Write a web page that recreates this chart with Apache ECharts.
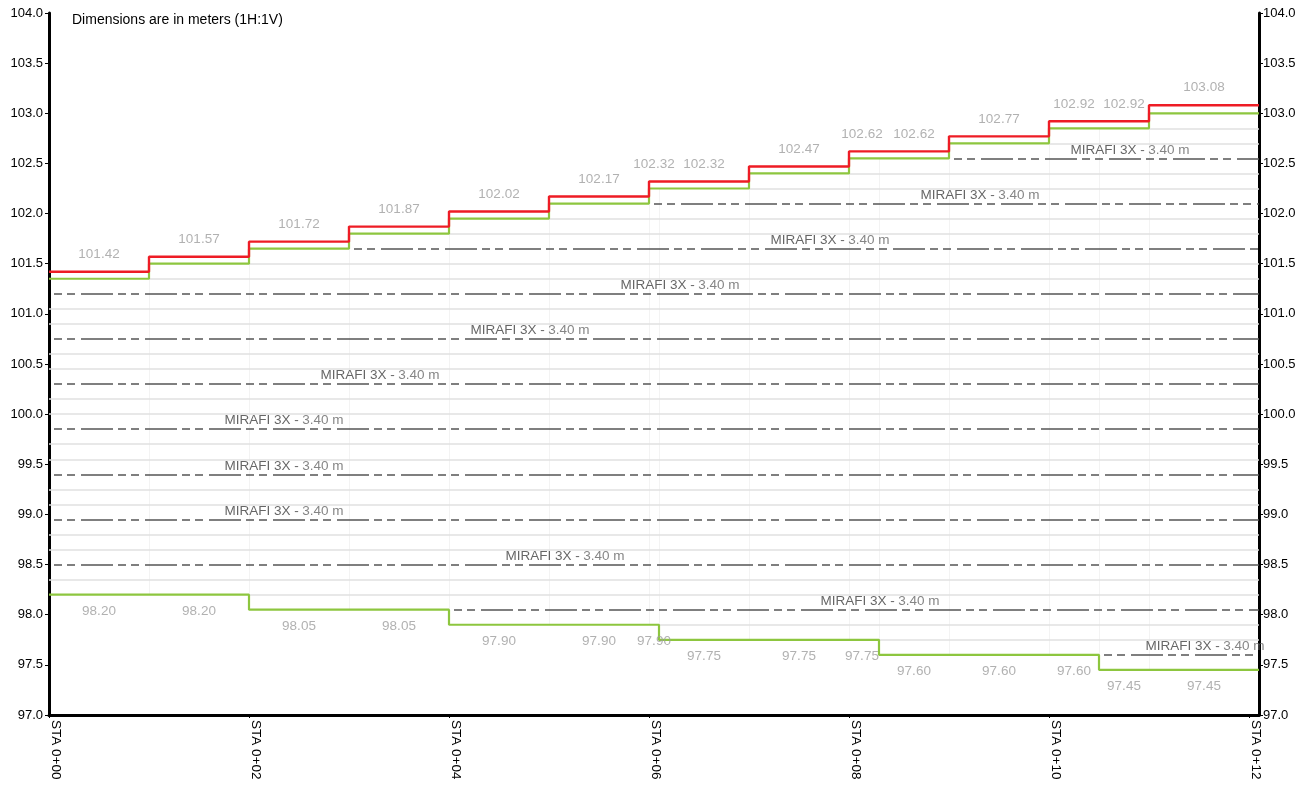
<!DOCTYPE html>
<html><head><meta charset="utf-8">
<script src="https://cdn.jsdelivr.net/npm/echarts@6/dist/echarts.min.js"></script>
<style>html,body{margin:0;padding:0;background:#fff}#c{width:1309px;height:786px}</style>
</head><body><div id="c"></div>
<script>
// ---- data ----
const stationTicks = [0, 2, 4, 6, 8, 10, 12];
const xMax = 12.1;
const topEdges = [0, 1, 2, 3, 4, 5, 6, 7, 8, 9, 10, 11, 12.1];
const topSurface = [101.42, 101.57, 101.72, 101.87, 102.02, 102.17, 102.32, 102.47, 102.62, 102.77, 102.92, 103.08];
const topFill = [101.35, 101.50, 101.65, 101.80, 101.95, 102.10, 102.25, 102.40, 102.55, 102.70, 102.85, 103.00];
const bottomEdges = [0, 2, 4, 6.1, 8.3, 10.5, 12.1];
const bottomLevels = [98.20, 98.05, 97.90, 97.75, 97.60, 97.45];
const labelX = [0.5, 1.5, 2.5, 3.5, 4.5, 5.5, 6.05, 6.55, 7.5, 8.13, 8.65, 9.5, 10.25, 10.75, 11.55];
const topLabels = [101.42, 101.57, 101.72, 101.87, 102.02, 102.17, 102.32, 102.32, 102.47, 102.62, 102.62, 102.77, 102.92, 102.92, 103.08];
const bottomLabels = [98.20, 98.20, 98.05, 98.05, 97.90, 97.90, 97.90, 97.75, 97.75, 97.75, 97.60, 97.60, 97.60, 97.45, 97.45];
const geogridLevels = [97.60, 98.05, 98.50, 98.95, 99.40, 99.85, 100.30, 100.75, 101.20, 101.65, 102.10, 102.55];
const geogridLabelX = [11.56, 8.31, 5.16, 2.35, 2.35, 2.35, 3.31, 4.81, 6.31, 7.81, 9.31, 10.81];
const geogridName = 'MIRAFI 3X -';
const geogridLength = '3.40 m';
const layerLevels = [97.75, 97.90, 98.20, 98.35, 98.65, 98.80, 99.10, 99.25, 99.55, 99.70, 100.00, 100.15,
  100.45, 100.60, 100.90, 101.05, 101.35, 101.50, 101.80, 101.95, 102.25, 102.40, 102.70, 102.85];
const blockEdges = [1, 2, 3, 4, 5, 6, 6.1, 7, 8, 8.3, 9, 10, 10.5, 11];
const noteText = 'Dimensions are in meters (1H:1V)';

// ---- helpers ----
const FONT = '"Liberation Sans", Arial, sans-serif';
function steps(edges, levels) {
  const pts = [];
  levels.forEach((v, i) => { pts.push([edges[i], v]); pts.push([edges[i + 1], v]); });
  return pts;
}
function startOf(L) {
  let xb = xMax, xt = xMax;
  for (let j = 0; j < bottomLevels.length; j++) if (bottomLevels[j] < L - 1e-9) { xb = bottomEdges[j]; break; }
  for (let i = 0; i < topFill.length; i++) if (topFill[i] > L + 1e-9) { xt = topEdges[i]; break; }
  return Math.max(xb, xt);
}
function valAt(edges, levels, x, side) {
  for (let i = 0; i < levels.length; i++) {
    if (x > edges[i] - 1e-9 && x < edges[i + 1] + 1e-9) {
      const cands = [levels[i]];
      if (Math.abs(x - edges[i + 1]) < 1e-9 && i + 1 < levels.length) cands.push(levels[i + 1]);
      return side === 'max' ? Math.max(...cands) : Math.min(...cands);
    }
  }
  return levels[levels.length - 1];
}
const layerLines = layerLevels.map(L => ({ coords: [[startOf(L), L], [xMax, L]] }));
const gridLines = geogridLevels.map(L => ({ coords: [[startOf(L), L], [xMax, L]] }));
const vertLines = blockEdges.map(x => ({ coords: [[x, valAt(bottomEdges, bottomLevels, x, 'max')], [x, valAt(topEdges, topFill, x, 'min')]] }));

const yAxisBase = {
  type: 'value', min: 97, max: 104, interval: 0.5,
  axisLine: { show: true, lineStyle: { color: '#000', width: 3 } },
  axisTick: { show: true, length: 4, lineStyle: { color: '#000', width: 1 } },
  axisLabel: { formatter: v => v.toFixed(1), fontSize: 13, color: '#000', fontFamily: FONT },
  splitLine: { show: false }
};

const option = {
  animation: false,
  backgroundColor: '#fff',
  grid: { left: 49, right: 50, top: 13, bottom: 71 },
  graphic: [{ type: 'text', left: 72, top: 13, style: { text: noteText, fontSize: 14, fill: '#000', fontFamily: FONT } }],
  xAxis: {
    type: 'value', min: 0, max: xMax,
    axisLine: { show: true, lineStyle: { color: '#000', width: 3 } },
    axisTick: { show: true, customValues: stationTicks, length: 3, lineStyle: { color: '#000' } },
    axisLabel: {
      customValues: stationTicks, rotate: -90, margin: 5, fontSize: 13.5, color: '#000', fontFamily: FONT,
      verticalAlign: 'bottom',
      formatter: v => 'STA 0+' + String(Math.round(v)).padStart(2, '0')
    },
    splitLine: { show: false }
  },
  yAxis: [
    Object.assign({}, yAxisBase, { position: 'left', axisLabel: Object.assign({}, yAxisBase.axisLabel, { margin: 6 }) }),
    Object.assign({}, yAxisBase, { position: 'right', axisLabel: Object.assign({}, yAxisBase.axisLabel, { margin: 4 }) })
  ],
  series: [
    { type: 'lines', coordinateSystem: 'cartesian2d', silent: true, z: 1, data: vertLines,
      lineStyle: { color: '#f3f3f3', width: 1, opacity: 1, curveness: 0 } },
    { type: 'lines', coordinateSystem: 'cartesian2d', silent: true, z: 1, data: layerLines,
      lineStyle: { color: '#e0e0e0', width: 1.5, opacity: 1, curveness: 0 } },
    { type: 'lines', coordinateSystem: 'cartesian2d', silent: true, z: 2, data: gridLines,
      lineStyle: { color: '#555', width: 1.6, opacity: 1, curveness: 0, type: [32, 5, 8, 5, 8, 6], dashOffset: 32 } },
    { type: 'line', data: steps(bottomEdges, bottomLevels), showSymbol: false, silent: true, z: 3,
      lineStyle: { color: '#8dc63f', width: 2.2 } },
    { type: 'line', data: steps(topEdges, topFill), showSymbol: false, silent: true, z: 3,
      lineStyle: { color: '#8dc63f', width: 2.2 } },
    { type: 'line', data: steps(topEdges, topSurface), showSymbol: false, silent: true, z: 4,
      lineStyle: { color: '#ee1c25', width: 2.4 } },
    { type: 'scatter', symbolSize: 0, silent: true, z: 5,
      data: labelX.map((x, i) => [x, topLabels[i]]),
      label: { show: true, position: 'inside', offset: [0, -17.5], fontSize: 13.5, color: '#9d9d9d', fontFamily: FONT,
        formatter: p => p.value[1].toFixed(2) } },
    { type: 'scatter', symbolSize: 0, silent: true, z: 5,
      data: labelX.map((x, i) => [x, bottomLabels[i]]),
      label: { show: true, position: 'inside', offset: [0, 16.5], fontSize: 13.5, color: '#9d9d9d', fontFamily: FONT,
        formatter: p => p.value[1].toFixed(2) } },
    { type: 'scatter', symbolSize: 0, silent: true, z: 5,
      data: geogridLabelX.map((x, i) => [x, geogridLevels[i]]),
      label: { show: true, position: 'inside', offset: [0, -8.5], fontFamily: FONT,
        formatter: () => '{a|' + geogridName + '} {b|' + geogridLength + '}',
        rich: { a: { fontSize: 13.5, color: '#404040', fontFamily: FONT }, b: { fontSize: 13.5, color: '#666', fontFamily: FONT } } } }
  ]
};
const chart = echarts.init(document.getElementById('c'), null, { renderer: 'canvas' });
chart.setOption(option);
</script>
</body></html>
